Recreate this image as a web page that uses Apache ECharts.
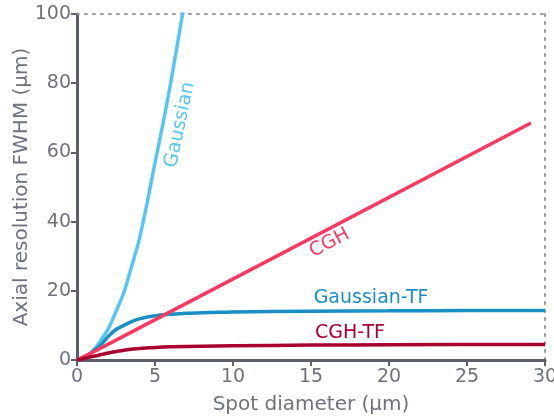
<!DOCTYPE html>
<html><head><meta charset="utf-8">
<script src="https://cdn.jsdelivr.net/npm/echarts@6/dist/echarts.min.js"></script>
<style>html,body{margin:0;padding:0;background:#fff}#c{width:554px;height:416px}</style>
</head><body><div id="c"></div>
<script>
const gaussX = [0,0.5,1,1.5,2,2.5,3,3.5,4,4.5,5,5.5,6,6.5,7];
const gaussY = [0,0.8,2.5,5.5,9,14,19.5,27,35,45.5,57,68,80,93,106];
const gaussTFX = [0,0.5,1,1.5,2,2.5,3,3.5,4,5,6,7,8.5,10,15,20,25,30];
const gaussTFY = [0,0.8,2.5,4.2,6.8,8.8,10,11.1,11.9,12.8,13.2,13.5,13.7,13.9,14.1,14.2,14.3,14.3];
const cghX = [0,1,29.1];
const cghY = [0,2.2,68.5];
const cghTFX = [0,0.5,1,1.5,2,3,4,5,6,8,10,15,20,30];
const cghTFY = [0,0.5,1,1.5,2,2.8,3.3,3.6,3.8,4.0,4.1,4.3,4.4,4.5];
const xTicks = [0,5,10,15,20,25,30];
const yTicks = [0,20,40,60,80,100];
const names = ['Gaussian','Gaussian-TF','CGH','CGH-TF'];
const colors = ['#55c6f3','#1a8fc4','#fb3a64','#a8002f'];
const labelPos = [[6.6,68],[18.85,17.9],[16.2,33.8],[17.5,7.8]];
const labelRot = [78,0,28,0];

const pair = (xs, ys) => xs.map((x,i)=>[x, ys[i]]);
const datasets = [pair(gaussX,gaussY), pair(gaussTFX,gaussTFY), pair(cghX,cghY), pair(cghTFX,cghTFY)];

const axisCol = '#5d606c';
const labCol = '#6f727e';
const font = 'DejaVu Sans';

const chart = echarts.init(document.getElementById('c'));
chart.setOption({
  animation:false,
  grid:{left:77,right:9,top:14,bottom:56,containLabel:false,outerBoundsMode:'none'},
  xAxis:[{
    type:'value',min:0,max:30,interval:5,
    axisLine:{show:true,onZero:false,lineStyle:{color:axisCol,width:3}},
    axisTick:{show:true,length:6,lineStyle:{color:axisCol,width:2}},
    axisLabel:{color:labCol,fontSize:19,fontFamily:font,margin:8},
    splitLine:{show:false},
    name:'Spot diameter (µm)',nameLocation:'middle',nameGap:35,
    nameTextStyle:{color:labCol,fontSize:20,fontFamily:font}
  },{
    type:'value',min:0,max:30,position:'top',
    axisLine:{show:true,onZero:false,lineStyle:{color:'#9a9a9a',width:2,type:[2,6]}},
    axisTick:{show:false},axisLabel:{show:false},splitLine:{show:false}
  }],
  yAxis:[{
    type:'value',min:0,max:100,interval:20,
    axisLine:{show:true,onZero:false,lineStyle:{color:axisCol,width:3}},
    axisTick:{show:true,length:6,lineStyle:{color:axisCol,width:2}},
    axisLabel:{color:labCol,fontSize:19,fontFamily:font,margin:6},
    splitLine:{show:false},
    name:'Axial resolution FWHM (µm)',nameLocation:'middle',nameGap:45,
    nameMoveOverlap:false,
    nameTextStyle:{color:labCol,fontSize:20,fontFamily:font}
  },{
    type:'value',min:0,max:100,position:'right',
    axisLine:{show:true,onZero:false,lineStyle:{color:'#9a9a9a',width:2,type:[2,6]}},
    axisTick:{show:false},axisLabel:{show:false},splitLine:{show:false}
  }],
  series: names.map((n,i)=>({
    name:n,type:'line',data:datasets[i],showSymbol:false,symbol:'none',
    smooth:0.3,clip:true,
    lineStyle:{color:colors[i],width:3.5},
    z: i===0?2:3,
    markPoint:{
      symbol:'circle',symbolSize:0,silent:true,
      data:[{coord:labelPos[i],
        label:{show:true,formatter:n,position:'inside',rotate:labelRot[i],
          color:colors[i],fontSize:19,fontFamily:font}}]
    }
  }))
});
</script></body></html>
